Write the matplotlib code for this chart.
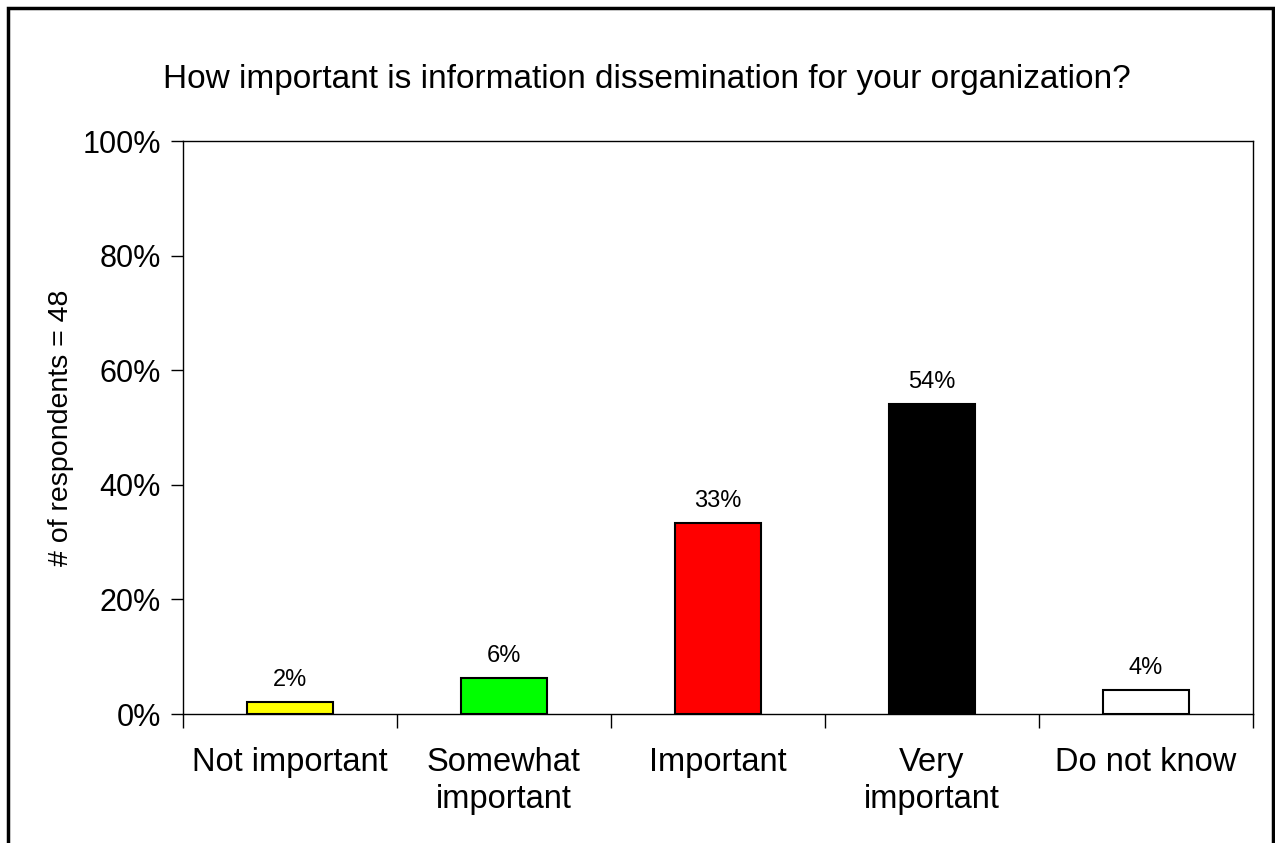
import numpy as np
import matplotlib.pyplot as plt
from matplotlib.patches import Rectangle
from matplotlib.ticker import PercentFormatter

plt.rcParams['font.family'] = ['Liberation Sans', 'DejaVu Sans']

categories = ['Not important', 'Somewhat\nimportant', 'Important', 'Very\nimportant', 'Do not know']
values = [2.08, 6.25, 33.33, 54.17, 4.17]
bar_labels = ['2%', '6%', '33%', '54%', '4%']
colors = ['#ffff00', '#00ff00', '#ff0000', '#000000', '#ffffff']

fig = plt.figure(figsize=(12.75, 8.43), dpi=100)
ax = fig.add_axes([0.1435, 0.153, 0.8392, 0.6797])

x = np.arange(len(categories))
ax.bar(x, values, width=0.4, color=colors, edgecolor='black', linewidth=1.5, zorder=3)
for xi, v, lab in zip(x, values, bar_labels):
    ax.text(xi, v + 1.9, lab, ha='center', va='bottom', fontsize=17)

ax.set_xlim(-0.5, len(categories) - 0.5)
ax.set_ylim(0, 100)
ax.set_yticks(np.arange(0, 101, 20))
ax.yaxis.set_major_formatter(PercentFormatter(decimals=0))
ax.tick_params(axis='y', labelsize=22, length=9, width=1, direction='out', pad=7)

# category labels centred, ticks at the category boundaries
ax.set_xticks(np.arange(-0.5, len(categories), 1.0))
ax.set_xticklabels([])
ax.set_xticks(x, minor=True)
ax.set_xticklabels(categories, minor=True, fontsize=23.5, linespacing=1.25)
ax.tick_params(axis='x', which='major', length=10, width=1, direction='out')
ax.tick_params(axis='x', which='minor', length=0, pad=24)

for s in ax.spines.values():
    s.set_linewidth(1)

ax.set_ylabel('# of respondents = 48', fontsize=20.5, labelpad=6)
fig.text(0.5075, 0.906, 'How important is information dissemination for your organization?',
         ha='center', va='center', fontsize=24)

# outer chart frame
fig.patches.append(Rectangle((8 / 1275, -0.01), 1265 / 1275, 1 - 8 / 843 + 0.01,
                             transform=fig.transFigure, fill=False,
                             edgecolor='black', linewidth=2.5))

fig.savefig('out.png', dpi=100)
